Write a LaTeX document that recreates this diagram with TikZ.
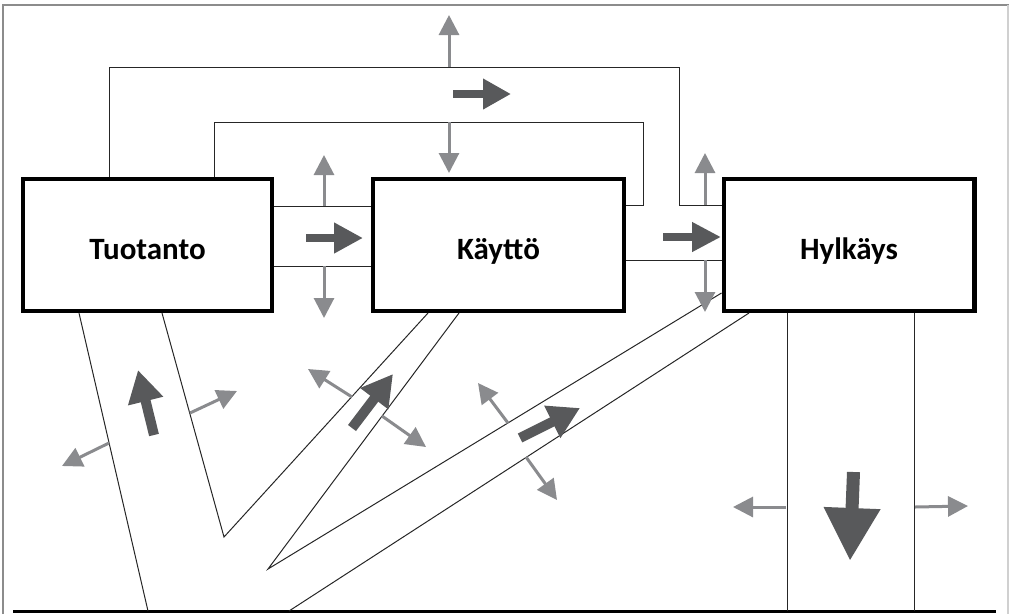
\documentclass[tikz,border=0pt]{standalone}
\usepackage{fontspec}
\setmainfont{Carlito}
\usetikzlibrary{arrows.meta}
\definecolor{darkarr}{HTML}{58595B}
\definecolor{grayarr}{HTML}{8A8B8E}
\definecolor{framegray}{HTML}{8C8C8C}
\definecolor{framelight}{HTML}{D0D0D0}
\tikzset{
  box/.style={draw, line width=4.5pt, minimum height=132pt, inner sep=0pt,
    text height=28pt, text depth=0pt, font=\fontsize{31}{36}\selectfont\bfseries},
  chan/.style={line width=1pt, black!85},
  garr/.style={draw=grayarr, line width=3pt, -{Triangle[width=20pt,length=20pt]}},
  darr/.style n args={3}{draw=darkarr, line width=#1, -{Triangle[width=#2,length=#3]}}
}
\begin{document}
\begin{tikzpicture}[x=1pt,y=-1pt]
\useasboundingbox (0,0) rectangle (1009,614);
% frame
\draw[framegray, line width=1.5pt] (3,614) -- (3,5) -- (1009,5);
\draw[framelight, line width=1.5pt] (1008,5) -- (1008,614);
\draw[black, line width=3pt] (13,611) -- (996,611);

% boxes
\node[box, minimum width=249pt] (tuo) at (147.5,245) {Tuotanto};
\node[box, minimum width=251pt] (kay) at (498.5,245) {Käyttö};
\node[box, minimum width=250.5pt] (hyl) at (849,245) {Hylkäys};

% channel lines
\draw[chan] (109,177) -- (109,67) -- (679,67) -- (679,205) -- (721.5,205);
\draw[chan] (214,177) -- (214,122) -- (643,122) -- (643,205) -- (626,205);
\draw[chan] (274,206) -- (371,206);
\draw[chan] (274,266) -- (371,266);
\draw[chan] (626,260) -- (721.5,260);
\draw[chan] (79,313) -- (148,611);
\draw[chan] (162,313) -- (224,537) -- (428,313);
\draw[chan] (459,313) -- (268,569) -- (721.5,293);
\draw[chan] (749,313) -- (289,611);
\draw[chan] (787,313) -- (787,611);
\draw[chan] (914,313) -- (914,611);

% gray arrows
\draw[garr] (449,67) -- (449,15);
\draw[garr] (449,122) -- (449,173);
\draw[garr] (324,206) -- (324,155);
\draw[garr] (324,266) -- (324,318);
\draw[garr] (705,205) -- (705,153);
\draw[garr] (705,260) -- (705,312);
\draw[garr] (109,443) -- (62,466);
\draw[garr] (190,413) -- (237,391);
\draw[garr] (352,397) -- (308,369);
\draw[garr] (382,416) -- (426,447);
\draw[garr] (508,423) -- (478,383);
\draw[garr] (526,457) -- (557,500);
\draw[garr] (786,507) -- (733,507);
\draw[garr] (915,507) -- (968,506);

% dark block arrows
\draw[darr={8pt}{29pt}{29pt}] (306,238) -- (363,238);
\draw[darr={8pt}{29pt}{28pt}] (453,94) -- (511,94);
\draw[darr={8pt}{28pt}{29pt}] (663,237) -- (721,237);
\draw[darr={13pt}{53pt}{53pt}] (853.5,472) -- (850,561);
\draw[darr={10pt}{34pt}{32pt}] (154,435) -- (138,370);
\draw[darr={10pt}{33pt}{31pt}] (352,428) -- (393,374);
\draw[darr={10pt}{34pt}{31pt}] (520,438) -- (580,408);
\end{tikzpicture}
\end{document}
